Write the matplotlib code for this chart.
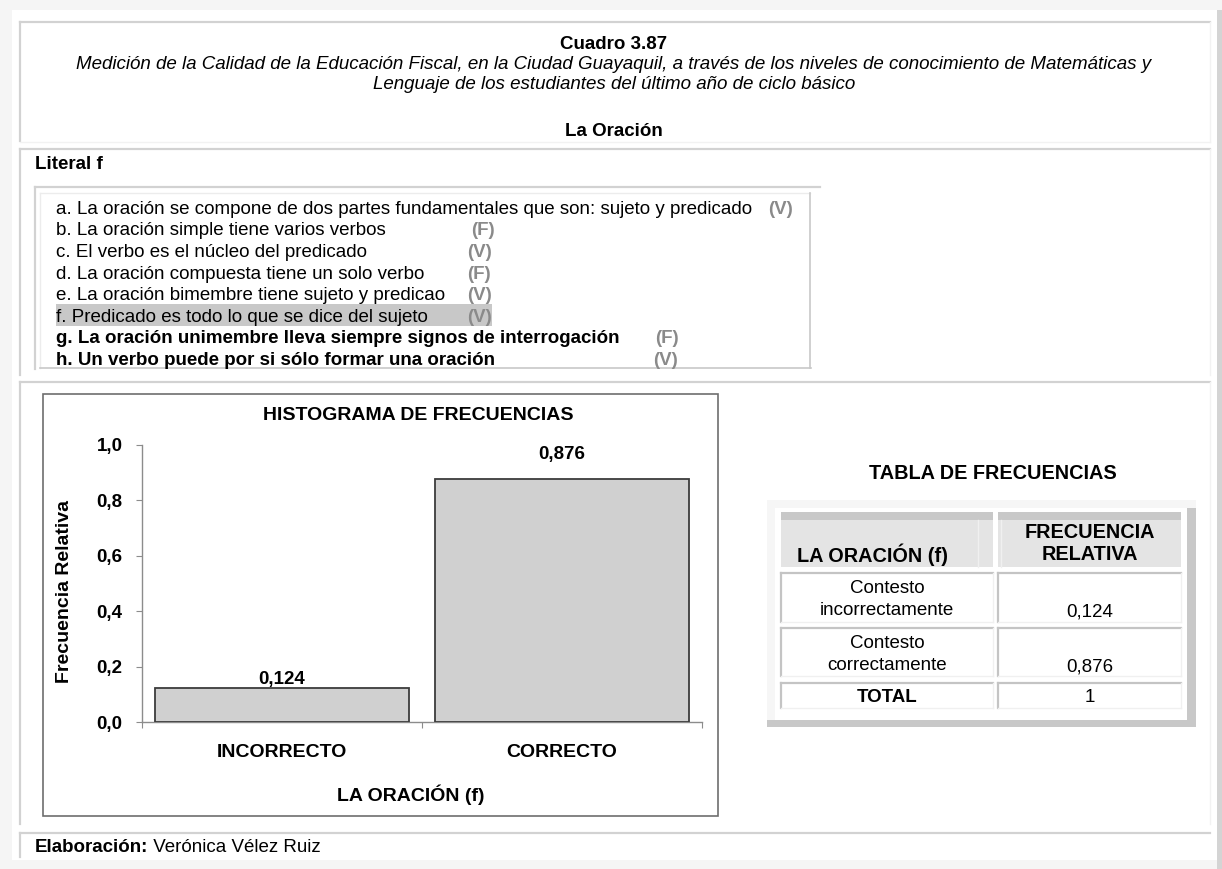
import matplotlib
matplotlib.use("Agg")
import matplotlib.pyplot as plt
from matplotlib.patches import Rectangle
from matplotlib.lines import Line2D

# ---------------- data ----------------
cuadro = "Cuadro 3.87"
subtitle_lines = [
    "Medición de la Calidad de la Educación Fiscal, en la Ciudad Guayaquil, a través de los niveles de conocimiento de Matemáticas y",
    "Lenguaje de los estudiantes del último año de ciclo básico",
]
section = "La Oración"
literal = "Literal f"
items = [
    "a. La oración se compone de dos partes fundamentales que son: sujeto y predicado",
    "b. La oración simple tiene varios verbos",
    "c. El verbo es el núcleo del predicado",
    "d. La oración compuesta tiene un solo verbo",
    "e. La oración bimembre tiene sujeto y predicao",
    "f. Predicado es todo lo que se dice del sujeto",
    "g. La oración unimembre lleva siempre signos de interrogación",
    "h. Un verbo puede por si sólo formar una oración",
]
answers = ["(V)", "(F)", "(V)", "(F)", "(V)", "(V)", "(F)", "(V)"]
bold_items = [False, False, False, False, False, False, True, True]
highlight_item = 5

chart_title = "HISTOGRAMA DE FRECUENCIAS"
categories = ["INCORRECTO", "CORRECTO"]
freq = [0.124, 0.876]
yticks = [0.0, 0.2, 0.4, 0.6, 0.8, 1.0]
ylabel = "Frecuencia Relativa"
xlabel = "LA ORACIÓN (f)"

table_title = "TABLA DE FRECUENCIAS"
table_head = ["LA ORACIÓN (f)", "FRECUENCIA\nRELATIVA"]
table_rows = ["Contesto\nincorrectamente", "Contesto\ncorrectamente"]
table_total_label = "TOTAL"
table_total = "1"
author_label = "Elaboración:"
author = " Verónica Vélez Ruiz"

# ---------------- layout helpers ----------------
W, H = 1222, 869
fig = plt.figure(figsize=(W / 100, H / 100), dpi=100)
fig.patch.set_facecolor("white")
FONT = ["Liberation Sans", "DejaVu Sans"]


def fx(x):
    return x / W


def fy(y):
    return 1 - y / H


def hline(x0, x1, y, color="#d2d2d2", lw=1.6):
    fig.add_artist(Line2D([fx(x0), fx(x1)], [fy(y), fy(y)], color=color, lw=lw))


def vline(x, y0, y1, color="#d2d2d2", lw=1.6):
    fig.add_artist(Line2D([fx(x), fx(x)], [fy(y0), fy(y1)], color=color, lw=lw))


def rect(x0, y0, x1, y1, color, ec="none", lw=0, z=0):
    fig.add_artist(Rectangle((fx(x0), fy(y1)), fx(x1) - fx(x0), fy(y0) - fy(y1),
                             facecolor=color, edgecolor=ec, lw=lw, zorder=z))


def T(x, yc, s, size=13.5, ha="left", weight="normal", style="normal", color="black", **kw):
    base = yc + 0.36 * size * 100 / 72
    return fig.text(fx(x), fy(base), s, fontsize=size, ha=ha, va="baseline",
                    fontweight=weight, fontstyle=style, color=color, family=FONT, **kw)


# page surround
rect(0, 0, W, 10, "#f5f5f5")
rect(0, 0, 12, H, "#f5f5f5")
rect(0, 860, W, H, "#f5f5f5")
rect(1217, 10, W, H, "#d4d4d4")

# box 1 (title)
hline(20, 1210, 22)
vline(20, 22, 141)
hline(20, 1210, 142, color="#f2f2f2", lw=1)
vline(1210, 22, 142, color="#f2f2f2", lw=1)
T(614, 42, cuadro, ha="center", weight="bold")
T(614, 62, subtitle_lines[0], ha="center", style="italic")
T(614, 82, subtitle_lines[1], ha="center", style="italic")
T(614, 129, section, ha="center", weight="bold")

# box 2 (literal)
hline(20, 1210, 149)
vline(20, 149, 375)
vline(1210, 149, 375, color="#f2f2f2", lw=1)
T(35, 162, literal, weight="bold")

# list box
hline(35, 820, 187)
vline(35, 187, 369)
vline(40, 193, 368, color="#ececec", lw=1)
hline(40, 810, 193, color="#ececec", lw=1)
hline(40, 811, 368, color="#c8c8c8", lw=1.2)
vline(810, 193, 368, color="#c8c8c8", lw=1.2)

item_y0, item_dy = 207, 21.6
ans_x = [768, 471, 467, 467, 467, 467, 655, 653]
for i, (txt, ans, b) in enumerate(zip(items, answers, bold_items)):
    yc = item_y0 + i * item_dy
    if i == highlight_item:
        rect(56, yc - 11, 492, yc + 11, "#c8c8c8", z=1)
    t = T(56, yc, txt, weight="bold" if b else "normal")
    t.set_zorder(3)
    a = T(ans_x[i], yc, ans, weight="bold", color="#8a8a8a")
    a.set_zorder(3)

# box 3 (chart + table)
hline(20, 1210, 382)
vline(20, 382, 824)
vline(1210, 382, 824, color="#f2f2f2", lw=1)

# chart frame
rect(43, 394, 718, 816, "none", ec="#6e6e6e", lw=1.2, z=1)

ax_l, ax_r, ax_b, ax_t = 142, 702, 722, 445
ax = fig.add_axes([fx(ax_l), fy(ax_b), fx(ax_r) - fx(ax_l), fy(ax_t) - fy(ax_b)])
ax.patch.set_alpha(0)
xs = list(range(len(categories)))
bars = ax.bar(xs, freq, width=0.907, color="#d0d0d0", edgecolor="#3c3c3c", linewidth=1.3, zorder=3)
ax.set_xlim(-0.5, len(categories) - 0.5)
ax.set_ylim(0, 1.0)
for s in ["top", "right"]:
    ax.spines[s].set_visible(False)
for s in ["left", "bottom"]:
    ax.spines[s].set_color("#8c8c8c")
    ax.spines[s].set_linewidth(1.0)
ax.set_yticks(yticks)
ax.set_yticklabels([f"{v:.1f}".replace(".", ",") for v in yticks],
                   fontsize=13.5, fontweight="bold", family=FONT)
ax.tick_params(axis="y", direction="out", length=4, color="#8c8c8c", pad=10)
ax.set_xticks([i - 0.5 for i in range(len(categories) + 1)])
ax.set_xticklabels([])
ax.tick_params(axis="x", which="major", direction="out", length=4, color="#8c8c8c")
ax.set_xticks(xs, minor=True)
ax.set_xticklabels(categories, minor=True, fontsize=14, fontweight="bold", family=FONT)
ax.tick_params(axis="x", which="minor", length=0, pad=16)

label_offsets = [2.5, 14.5]
for x, v, off in zip(xs, freq, label_offsets):
    ax.annotate(f"{v:.3f}".replace(".", ","), (x, v), xytext=(0, off), textcoords="offset points",
                ha="center", va="baseline", fontsize=13.5, fontweight="bold", family=FONT)

ax.set_ylabel(ylabel, fontsize=14, fontweight="bold", family=FONT)
ax.yaxis.set_label_coords(-0.123, 0.47)
ax.set_xlabel(xlabel, fontsize=14, fontweight="bold", family=FONT)
ax.xaxis.set_label_coords(0.48, -0.225)
ax.text(0.493, (ax_b - 420) / (ax_b - ax_t), chart_title, transform=ax.transAxes, ha="center",
        va="baseline", fontsize=14, fontweight="bold", family=FONT)

# table
T(993, 472, table_title, ha="center", weight="bold", size=14.3)
rect(767, 500, 1196, 727, "#f6f6f6")
rect(1187, 508, 1196, 727, "#c8c8c8")
rect(767, 720, 1196, 727, "#c8c8c8")
rect(775, 508, 1187, 720, "white")

c1 = (781, 993)
c2 = (998, 1181)
# header
for c in (c1, c2):
    rect(c[0], 512, c[1], 567, "#e4e4e4")
    rect(c[0], 512, c[1], 520, "#c8c8c8")
vline(978, 520, 567, color="#f0f0f0", lw=1)
vline(1001, 520, 567, color="#f0f0f0", lw=1)
T(797, 555, table_head[0], weight="bold", size=14.3)
T(1090, 531, table_head[1].split("\n")[0], ha="center", weight="bold", size=14.3)
T(1090, 553, table_head[1].split("\n")[1], ha="center", weight="bold", size=14.3)

row_bounds = [(573, 622), (628, 676), (683, 708)]


def cell(c, r):
    rect(c[0], r[0], c[1], r[1], "white")
    hline(c[0], c[1], r[0], color="#c4c4c4", lw=1.6)
    vline(c[0], r[0], r[1], color="#c4c4c4", lw=1.6)
    hline(c[0], c[1], r[1], color="#f0f0f0", lw=1)
    vline(c[1], r[0], r[1], color="#f0f0f0", lw=1)


for r in row_bounds:
    cell(c1, r)
    cell(c2, r)

for (r, lab, v) in zip(row_bounds[:2], table_rows, freq):
    l1, l2 = lab.split("\n")
    T(887, r[0] + 13, l1, ha="center")
    T(887, r[0] + 35, l2, ha="center")
    T(1090, r[0] + 37, f"{v:.3f}".replace(".", ","), ha="center")
T(887, 695, table_total_label, ha="center", weight="bold")
T(1090, 695, table_total, ha="center")

# box 4 (author)
hline(20, 1210, 833)
vline(20, 833, 857)
t1 = T(35, 845, author_label, weight="bold")
fig.canvas.draw()
bb = t1.get_window_extent()
T(bb.x1, 845, author)

fig.savefig("out.png", dpi=100, facecolor="white")
